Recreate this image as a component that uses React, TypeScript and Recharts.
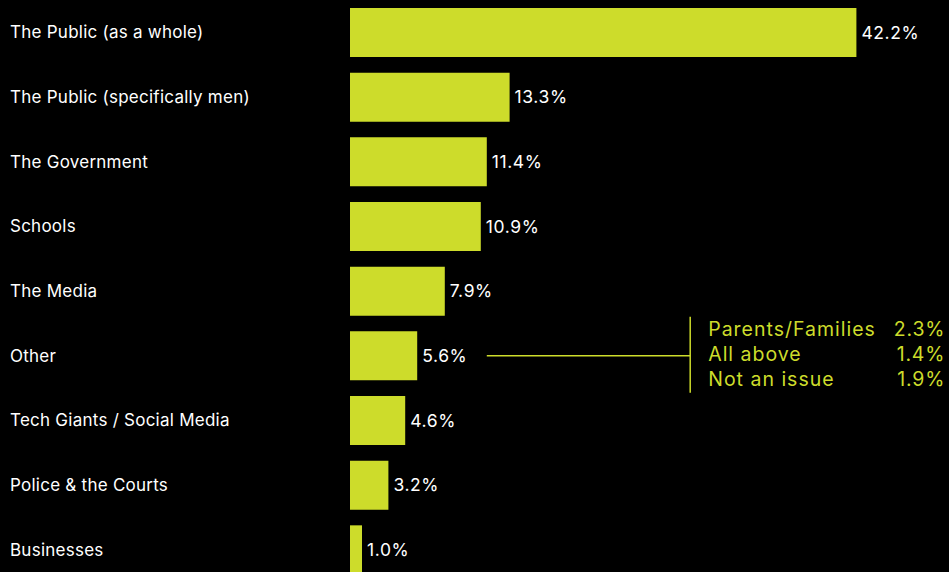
import React from "react";
import {
  BarChart,
  Bar,
  XAxis,
  YAxis,
  LabelList,
  ReferenceLine,
} from "recharts";

const categories = [
  "The Public (as a whole)",
  "The Public (specifically men)",
  "The Government",
  "Schools",
  "The Media",
  "Other",
  "Tech Giants / Social Media",
  "Police & the Courts",
  "Businesses",
];
const values = [42.2, 13.3, 11.4, 10.9, 7.9, 5.6, 4.6, 3.2, 1.0];

const otherLabels = ["Parents/Families", "All above", "Not an issue"];
const otherValues = [2.3, 1.4, 1.9];

const data = categories.map((name, i) => ({ name, value: values[i] }));

const LIME = "#cddc2b";
const FONT = "Inter, 'Noto Sans', sans-serif";

const CategoryTick = (props: any) => {
  const { y, payload } = props;
  return (
    <text
      x={10}
      y={y}
      dy={6}
      fill="#ffffff"
      fontSize={17}
      letterSpacing={0.25}
      fontFamily={FONT}
      textAnchor="start"
    >
      {payload.value}
    </text>
  );
};

const OtherBracket = (props: any) => {
  const { x1, y1, x2, y2 } = props;
  return (
    <g>
      <line x1={x1} y1={y1} x2={x2} y2={y2} stroke={LIME} strokeWidth={1.5} />
      <line x1={x2} y1={y1 - 39} x2={x2} y2={y1 + 37} stroke={LIME} strokeWidth={1.5} />
      {otherLabels.map((label, i) => (
        <g key={label}>
          <text
            x={x2 + 18}
            y={y1 - 27 + i * 25}
            dy={7}
            fill={LIME}
            fontSize={19.5}
            letterSpacing={1}
            fontFamily={FONT}
          >
            {label}
          </text>
          <text
            x={x2 + 255}
            y={y1 - 27 + i * 25}
            dy={7}
            fill={LIME}
            fontSize={19.5}
            letterSpacing={0.8}
            fontFamily={FONT}
            textAnchor="end"
          >
            {otherValues[i].toFixed(1)}%
          </text>
        </g>
      ))}
    </g>
  );
};

export default function App() {
  return (
    <div
      style={{
        position: "absolute",
        top: 0,
        left: 0,
        width: 949,
        height: 572,
        background: "#000000",
        overflow: "hidden",
      }}
    >
      <BarChart
        width={950}
        height={582}
        data={data}
        layout="vertical"
        margin={{ top: 0, right: 0, bottom: 0, left: 0 }}
        barCategoryGap={8}
      >
        <XAxis type="number" domain={[0, 50]} hide />
        <YAxis
          type="category"
          dataKey="name"
          width={350}
          axisLine={false}
          tickLine={false}
          tick={<CategoryTick />}
          interval={0}
        />
        <Bar dataKey="value" fill={LIME} isAnimationActive={false}>
          <LabelList
            dataKey="value"
            position="right"
            offset={5}
            fill="#ffffff"
            fontSize={17.5}
            letterSpacing={0.6}
            fontFamily={FONT}
            formatter={(v: any) => `${Number(v).toFixed(1)}%`}
          />
        </Bar>
        <ReferenceLine
          segment={[
            { x: 11.4, y: "Other" },
            { x: 28.35, y: "Other" },
          ]}
          ifOverflow="visible"
          shape={<OtherBracket />}
        />
      </BarChart>
    </div>
  );
}
